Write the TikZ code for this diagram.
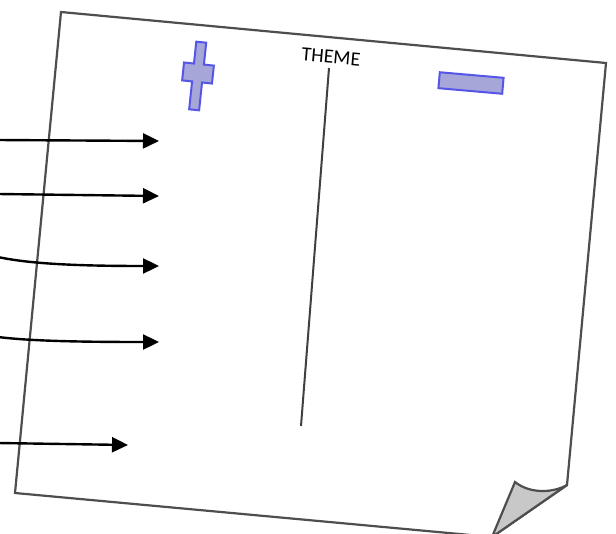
\documentclass[tikz,border=0pt]{standalone}
\usepackage{fontspec}
\setmainfont{Carlito}
\usetikzlibrary{arrows.meta}
\definecolor{sheetline}{HTML}{4E4E4E}
\definecolor{signfill}{HTML}{A6A6D8}
\definecolor{signline}{HTML}{5555E8}
\definecolor{foldgray}{HTML}{C8C8C8}
\tikzset{
  sheet/.style={draw=sheetline, line width=2.2pt, fill=white},
  sign/.style={draw=signline, fill=signfill, line width=2pt},
  pointer/.style={line width=2.4pt, -{Triangle[length=16pt,width=15pt]}},
}
\begin{document}
\begin{tikzpicture}[x=1pt, y=-1pt]
    \useasboundingbox (0,0) rectangle (616,533);
    \draw[sheet] (61,12) -- (606,63) -- (567,485) -- (492,537) -- (15,493) -- cycle;
    \draw[sheet, fill=foldgray] (515,482) .. controls (530,494) and (553,493) .. (567,485) -- (492,537) -- cycle;
    \begin{scope}[shift={(198,73)}, rotate=-6]
        \draw[sign] (-5,-31) -- (5,-31) -- (5,-9) -- (15,-9) -- (15,9) -- (5,9) -- (5,37)
            -- (-5,37) -- (-5,9) -- (-15,9) -- (-15,-9) -- (-5,-9) -- cycle;
    \end{scope}
    \node[sign, minimum width=64pt, minimum height=16pt, inner sep=0pt, rotate=-5] (minus) at (471,83) {};
    \node[font=\fontsize{20}{24}\selectfont, inner sep=0pt, rotate=-5] (theme) at (331,57) {THEME};
    \coordinate (spineTop) at (329,68);
    \coordinate (spineBot) at (301,426);
    \draw[line width=2pt, draw=black!75] (spineTop) -- (spineBot);
    \foreach \n/\ys/\xe/\ye in {1/140/159/141, 2/194/159/196, 5/443/128/445} {
        \coordinate (src\n) at (-2,\ys);
        \coordinate (tip\n) at (\xe,\ye);
        \draw[pointer] (src\n) -- (tip\n);
    }
    \coordinate (src3) at (-2,257);
    \coordinate (tip3) at (159,266);
    \draw[pointer] (src3) .. controls (30,264) and (80,266) .. (tip3);
    \coordinate (src4) at (-2,337);
    \coordinate (tip4) at (159,342);
    \draw[pointer] (src4) .. controls (30,341) and (80,342) .. (tip4);
\end{tikzpicture}
\end{document}
